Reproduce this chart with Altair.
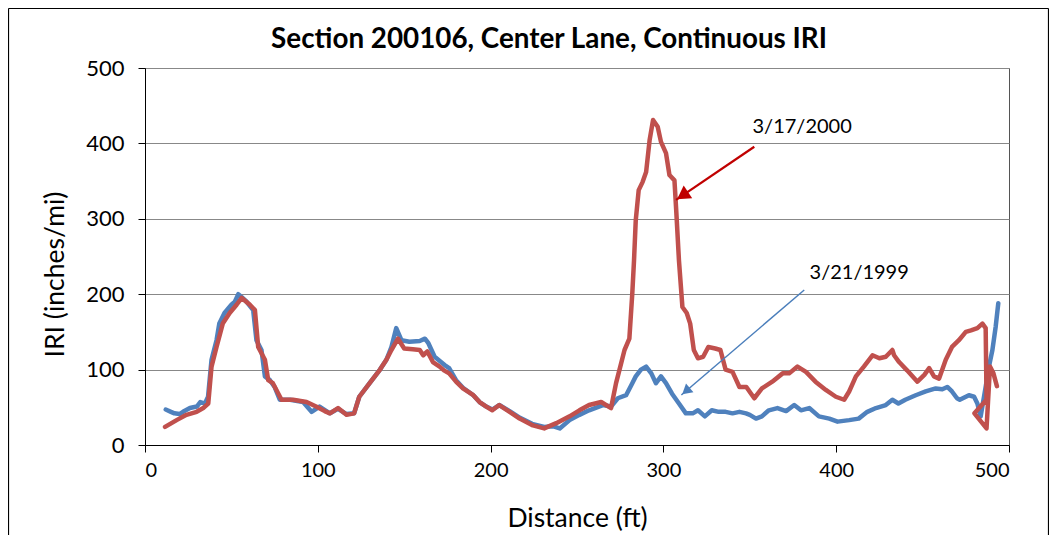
import altair as alt
import pandas as pd

# ---------------- data ----------------
blue_x = [12, 15, 17, 20, 22, 26, 30, 32, 34.7, 36.5, 38.5, 41.4, 43, 46, 50, 52, 54, 56, 58.8, 62.6,
          64.5, 67.4, 69.4, 72.3, 75, 78, 84, 91.5, 96.4, 101, 107, 111.7, 116.6, 121, 124, 130, 136,
          139.7, 142.6, 145.4, 148.4, 153, 159, 162, 164, 167.6, 173.4, 176, 180, 184, 190, 193.6,
          197.5, 201, 205, 211, 217, 224, 231, 236, 240, 245.7, 251.4, 257, 265, 269.7, 273.6, 278.4,
          282, 284, 287, 290, 293, 295.7, 298.6, 301.5, 305, 309, 313, 317, 320, 324, 328, 332, 336,
          340, 344, 347.8, 350, 353.6, 357, 361, 366, 371, 375.7, 379.6, 384.4, 390, 396, 400.8, 407.5,
          413, 418, 423, 428.7, 432.5, 436, 440, 446, 451.8, 457.6, 461.4, 464.3, 467, 469.9, 471.5,
          476.8, 479.8, 481.7, 483.6, 486.5, 488.4, 490.4, 492.3, 493.8]
blue_y = [47, 44, 42, 41, 44, 49, 51, 57, 55, 64, 113, 139, 161, 175, 186, 190, 200, 196, 190, 179,
          139, 126, 91, 86, 77, 60, 60, 57, 44, 51, 42, 48, 41, 42, 64, 82, 100,
          113, 130, 155, 139, 137, 138, 141, 135, 117, 106, 102, 86, 76, 66, 57,
          51, 47, 53, 45, 36, 28, 24, 25, 22, 33, 40, 46, 53, 51, 62, 66,
          82, 91, 100, 104, 95, 82, 91, 82, 68, 55, 42, 42, 46, 38, 46, 44, 44,
          42, 44, 42, 40, 35, 38, 46, 49, 45, 53, 46, 49, 38, 35, 31, 33,
          35, 44, 49, 53, 60, 55, 60, 66, 71, 75, 74, 77, 71, 62, 60,
          66, 64, 55, 38, 77, 104, 126, 157, 188]

red_x = [11.6, 18.3, 24, 29.9, 33.7, 36.6, 38.5, 41.4, 45, 49, 53, 56, 60.7, 63.6, 65.5, 69.4, 71.3,
         74, 79, 85.7, 93.5, 99, 104, 107, 111.7, 116.6, 121, 124, 130, 136, 139.7, 142.6, 146.4,
         150, 155, 159, 161, 163.4, 166.6, 170.5, 173, 176, 180, 184, 190, 193.6, 197.5, 201, 205,
         211, 216.8, 224.5, 231, 238, 245.7, 251.4, 257, 264, 269.7, 272.6, 275.5, 277.5, 280.3,
         282, 283, 284, 285.7, 288, 290, 292, 294, 296.7, 298.6, 301.5, 303.5, 306.4, 307.4, 309,
         311, 313.5, 315.5, 317.6, 320, 323, 326, 330, 333, 336, 340, 344, 348, 352.6, 357, 363,
         369, 372.8, 377.6, 382.5, 388, 394, 399.8, 404.6, 407.5, 411.4, 416, 421, 425, 428.7,
         432.5, 433.5, 436.4, 441, 447, 451, 453.8, 456.6, 459.5, 463.4, 467, 471, 475, 478, 481.7,
         484.6, 486.5, 487, 480, 487, 489, 491, 493]
red_y = [24, 33, 40, 44, 49, 55, 104, 130, 161, 175, 186, 195, 186, 179, 130, 113, 86,
         82, 60, 60, 57, 51, 45, 42, 49, 40, 42, 64, 82, 100, 113, 126, 141,
         128, 127, 126, 119, 124, 110, 104, 99, 95, 84, 75, 66, 57, 51, 46, 53,
         44, 35, 26, 22, 29, 38, 46, 53, 57, 49, 82, 108, 126, 141,
         201, 245, 298, 338, 349, 362, 404, 431, 422, 402, 387, 358, 351, 312, 245,
         183, 175, 161, 126, 115, 117, 130, 128, 126, 100, 97, 77, 77, 62, 75, 84,
         95, 95, 104, 97, 84, 73, 64, 60, 71, 91, 104, 119, 115, 117,
         126, 119, 110, 99, 84, 93, 102, 91, 88, 113, 130, 139, 150, 152, 155,
         161, 155, 60, 42, 22, 104, 95, 78]

series_names = ["3/21/1999", "3/17/2000"]
x_ticks = [0, 100, 200, 300, 400, 500]
y_ticks = [0, 50, 100, 150, 200, 250, 300, 350, 400, 450, 500]

# annotations (data units)
note_text = ["3/17/2000", "3/21/1999"]
note_x = [380.3, 413.3]
note_y = [421.8, 228.0]
arrow_x_start = [352.6, 381.5]
arrow_y_start = [395.6, 205.6]
arrow_x_end = [307.3, 310.4]
arrow_y_end = [325.0, 66.3]

BLUE = "#4F81BD"
RED = "#C0504D"
FONT = "Lato"

blue_df = pd.DataFrame({"dist": blue_x, "iri": blue_y, "ord": range(len(blue_x)),
                        "series": series_names[0]})
red_df = pd.DataFrame({"dist": red_x, "iri": red_y, "ord": range(len(red_x)),
                       "series": series_names[1]})

xscale = alt.Scale(domain=[0, 500], nice=False, zero=False)
yscale = alt.Scale(domain=[0, 500], nice=False)

xaxis = alt.Axis(values=x_ticks, title="Distance (ft)", grid=False, format="d",
                 titleX=432, titleY=73, titleBaseline="middle", titleAlign="center",
                 labelPadding=8, labelFontSize=20)
yaxis = alt.Axis(values=y_ticks, title="IRI (inches/mi)", grid=True, format="d",
                 titleX=-90, titleY=206, titleBaseline="middle", titleAlign="center",
                 titleAngle=-90, labelPadding=14, labelFontSize=22)


def line_layer(df, color):
    return alt.Chart(df).mark_line(color=color, strokeWidth=4.5, strokeJoin="round",
                                   strokeCap="round").encode(
        x=alt.X("dist:Q", scale=xscale, axis=xaxis),
        y=alt.Y("iri:Q", scale=yscale, axis=yaxis),
        order="ord:Q",
    )


blue_line = line_layer(blue_df, BLUE)
red_line = line_layer(red_df, RED)

notes_df = pd.DataFrame({"text": note_text, "x": note_x, "y": note_y})
notes = alt.Chart(notes_df).mark_text(font=FONT, fontSize=20, color="#000000").encode(
    x=alt.X("x:Q", scale=xscale), y=alt.Y("y:Q", scale=yscale), text="text:N")

arrows_df = pd.DataFrame({"x": arrow_x_start, "y": arrow_y_start,
                          "x2": arrow_x_end, "y2": arrow_y_end, "name": note_text})
red_arrow = alt.Chart(arrows_df.iloc[[0]]).mark_rule(color="#C00000", strokeWidth=2.2).encode(
    x=alt.X("x:Q", scale=xscale), y=alt.Y("y:Q", scale=yscale), x2="x2:Q", y2="y2:Q")
blue_arrow = alt.Chart(arrows_df.iloc[[1]]).mark_rule(color="#4A7EBB", strokeWidth=1.5).encode(
    x=alt.X("x:Q", scale=xscale), y=alt.Y("y:Q", scale=yscale), x2="x2:Q", y2="y2:Q")
red_head = alt.Chart(arrows_df.iloc[[0]]).mark_point(
    shape="triangle-up", filled=True, opacity=1, color="#C00000", size=230, angle=235.8,
    xOffset=6.5, yOffset=-4.4).encode(
    x=alt.X("x2:Q", scale=xscale), y=alt.Y("y2:Q", scale=yscale))
blue_head = alt.Chart(arrows_df.iloc[[1]]).mark_point(
    shape="triangle-up", filled=True, opacity=1, color="#4A7EBB", size=130, angle=229.4,
    xOffset=4.6, yOffset=-3.9).encode(
    x=alt.X("x2:Q", scale=xscale), y=alt.Y("y2:Q", scale=yscale))

# outer chart frame (decoration)
frame_df = pd.DataFrame({"k": [0]})
frame_left = alt.Chart(frame_df).mark_rule(color="#000000", strokeWidth=1.2).encode(
    x=alt.value(-136.5), y=alt.value(-59.5), y2=alt.value(470))
frame_top = alt.Chart(frame_df).mark_rule(color="#000000", strokeWidth=1.2).encode(
    x=alt.value(-136.5), x2=alt.value(903.5), y=alt.value(-59.5))
frame_right = alt.Chart(frame_df).mark_rule(color="#000000", strokeWidth=1.2).encode(
    x=alt.value(903.5), y=alt.value(-59.5), y2=alt.value(470))

chart = alt.layer(
    blue_line, red_line, red_arrow, blue_arrow, red_head, blue_head, notes,
    frame_left, frame_top, frame_right,
).properties(
    width=864, height=377,
    title=alt.TitleParams("Section 200106, Center Lane, Continuous IRI", font=FONT,
                          fontSize=27.8, fontWeight="bold", color="#000000", anchor="middle",
                          dx=-28, dy=82, offset=8, baseline="bottom"),
    autosize=alt.AutoSizeParams(type="none"),
    padding={"left": 137, "top": 60, "right": 40, "bottom": 90},
    background="#FFFFFF",
).configure_view(
    stroke="#555555", strokeWidth=1,
).configure_axis(
    labelFont=FONT, titleFont=FONT, titleFontSize=26.5,
    labelColor="#000000", titleColor="#000000", titleFontWeight="normal",
    domainColor="#000000", domainWidth=1, tickColor="#000000", tickSize=7, tickWidth=1,
    gridColor="#888888", gridWidth=1,
)

chart.save("out.html", embed_options={"renderer": "svg", "actions": False})
